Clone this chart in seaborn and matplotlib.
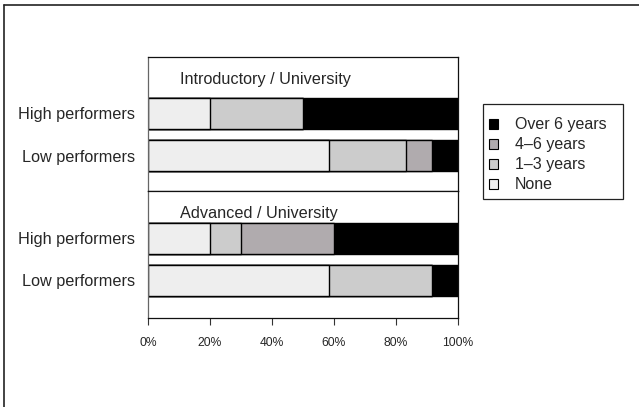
import matplotlib
matplotlib.use("Agg")
import matplotlib.pyplot as plt
from matplotlib.patches import Patch, Rectangle
from matplotlib.lines import Line2D
import seaborn as sns
import pandas as pd

sns.set_style("white")
plt.rcParams["font.family"] = ["Liberation Sans", "DejaVu Sans"]

# Share of students in each experience bracket (percent)
groups = ["Introductory / University", "Advanced / University"]
performers = ["High performers", "Low performers"]
brackets = ["None", "1\u20133 years", "4\u20136 years", "Over 6 years"]
colors = ["#eeeeee", "#cccccc", "#b0abae", "#000000"]

intro_high = [20.0, 30.0, 0.0, 50.0]
intro_low = [58.3, 25.0, 8.3, 8.4]
adv_high = [20.0, 10.0, 30.0, 40.0]
adv_low = [58.3, 33.3, 0.0, 8.4]

x_ticks = [0, 20, 40, 60, 80, 100]
x_labels = ["0%", "20%", "40%", "60%", "80%", "100%"]

values = {
    (groups[0], performers[0]): intro_high,
    (groups[0], performers[1]): intro_low,
    (groups[1], performers[0]): adv_high,
    (groups[1], performers[1]): adv_low,
}

rows = []
for (grp, perf), vals in values.items():
    cum = 0.0
    for br, v in zip(brackets, vals):
        cum += v
        rows.append({"group": grp, "performer": perf, "bracket": br, "cum": cum})
df = pd.DataFrame(rows)

W, H = 639, 407
fig = plt.figure(figsize=(W / 100, H / 100), dpi=100)

# outer frame (top and left edges)
fig.add_artist(Line2D([4 / W, 1.0], [1 - 5 / H, 1 - 5 / H], color="#222222", lw=1.2,
                      transform=fig.transFigure))
fig.add_artist(Line2D([4 / W, 4 / W], [0.0, 1 - 5 / H], color="#222222", lw=1.2,
                      transform=fig.transFigure))

left, right = 148 / W, 458 / W
ax_top = fig.add_axes([left, 1 - 191 / H, right - left, 134 / H])
ax_bot = fig.add_axes([left, 1 - 318 / H, right - left, 127 / H])

panels = [
    (ax_top, groups[0], (1.845, -1.345), -0.82),
    (ax_bot, groups[1], (1.893, -1.131), -0.605),
]

for ax, grp, ylim, title_y in panels:
    sub = df[df["group"] == grp]
    # draw cumulative bars from the widest to the narrowest so they stack
    for br, col in reversed(list(zip(brackets, colors))):
        part = sub[sub["bracket"] == br]
        sns.barplot(data=part, x="cum", y="performer", order=performers,
                    orient="h", color=col, width=0.74, edgecolor="black",
                    linewidth=1.0, saturation=1, ax=ax, errorbar=None)
    ax.set_xlim(0, 100)
    ax.set_ylim(*ylim)
    ax.set_xlabel("")
    ax.set_ylabel("")
    ax.text(10.3, title_y, grp, fontsize=11.7, va="center", ha="left")
    ax.tick_params(axis="y", length=0, pad=9.5, labelsize=11.7)
    for sp in ax.spines.values():
        sp.set_visible(True)
        sp.set_color("#111111")
        sp.set_linewidth(0.9)
    ax.spines["left"].set_color("#666666")

ax_top.set_xticks([])
ax_bot.set_xticks(x_ticks)
ax_bot.set_xticklabels(x_labels, fontsize=8.7)
ax_bot.tick_params(axis="x", length=5, width=0.8, color="#333333", pad=9,
                   bottom=True, direction="out")

# legend box
fig.add_artist(Rectangle((483 / W, 1 - 199 / H), 140 / W, 95 / H,
                         transform=fig.transFigure, facecolor="white",
                         edgecolor="#222222", linewidth=0.9, zorder=1))
handles = [Patch(facecolor=c, edgecolor="black", linewidth=0.8)
           for c in reversed(colors)]
leg = fig.legend(handles, list(reversed(brackets)), loc="upper left",
                 bbox_to_anchor=(489 / W, 1 - 117.5 / H), fontsize=11.5,
                 frameon=False, handlelength=0.55, handleheight=0.55,
                 handletextpad=1.05, labelspacing=0.31, borderpad=0,
                 borderaxespad=0)
leg.set_zorder(2)

fig.savefig("out.png", dpi=100)
